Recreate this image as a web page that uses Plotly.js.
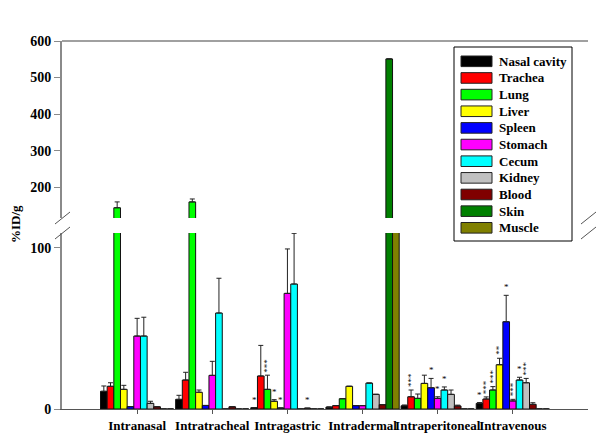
<!DOCTYPE html>
<html>
<head>
<meta charset="utf-8">
<script src="https://cdn.plot.ly/plotly-3.0.1.min.js"></script>
<style>html,body{margin:0;padding:0;background:#fff;}#chart{width:600px;height:446px;}</style>
</head>
<body>
<div id="chart"></div>
<script>
// ---- data ----
const groups = ['Intranasal','Intratracheal','Intragastric','Intradermal','Intraperitoneal','Intravenous'];
const seriesNames = ['Nasal cavity','Trachea','Lung','Liver','Spleen','Stomach','Cecum','Kidney','Blood','Skin','Muscle'];
const seriesColors = ['#000000','#FF0000','#00FF00','#FFFF00','#0000FF','#FF00FF','#00FFFF','#C0C0C0','#800000','#008000','#808000'];

const nasal   = [11.0, 6.0, 0.8, 1.2, 2.0, 3.5];
const trachea = [14.1, 18.0, 20.5, 2.1, 7.6, 6.2];
const lung    = [144, 160, 12.2, 6.4, 6.6, 11.8];
const liver   = [12.2, 10.4, 4.8, 14.1, 15.9, 27.5];
const spleen  = [1.5, 2.2, 0.6, 2.1, 13.2, 54.2];
const stomach = [45.3, 20.9, 71.8, 2.1, 6.6, 5.0];
const cecum   = [45.3, 59.6, 77.6, 16.1, 11.8, 18.0];
const kidney  = [3.5, 0, 0, 9.1, 9.1, 16.3];
const blood   = [1.4, 1.4, 0.5, 2.7, 1.9, 2.9];
const skin    = [0, 0, 0, 551, 0, 0];
const muscle  = [0, 0, 0, 112, 0, 0];

const nasalErr   = [3.3, 2.5, 0, 0, 0.5, 0.5];
const tracheaErr = [2.2, 4.8, 19.0, 0, 4.2, 1.3];
const lungErr    = [16, 8, 8.8, 0, 2.7, 2.1];
const liverErr   = [2.5, 1.4, 1.0, 0, 5.1, 4.0];
const spleenErr  = [0, 0, 0, 0, 5.8, 16.4];
const stomachErr = [11.0, 8.7, 27.6, 0, 1.0, 1.0];
const cecumErr   = [11.7, 21.6, 31.5, 0, 1.9, 1.7];
const kidneyErr  = [1.3, 0, 0, 0, 2.7, 2.7];
const bloodErr   = [0, 0, 0, 0, 0.5, 1.0];
const skinErr    = [0, 0, 0, 0, 0, 0];
const muscleErr  = [0, 0, 0, 0, 0, 0];

const nasalStars   = ['', '', '*', '', '', '*'];
const tracheaStars = ['', '', '', '', '***', '***'];
const lungStars    = ['', '', '***', '', '', '***'];
const liverStars   = ['', '', '*', '', '', '**'];
const spleenStars  = ['', '', '*', '', '*', '*'];
const stomachStars = ['', '', '', '', '*', '***'];
const cecumStars   = ['', '', '', '', '*', '*'];
const kidneyStars  = ['', '', '', '', '', '***'];
const bloodStars   = ['', '', '*', '', '', ''];
const skinStars    = ['', '', '', '', '', ''];
const muscleStars  = ['', '', '', '', '', ''];

const lowerTicks = [0, 100];
const upperTicks = [200, 300, 400, 500, 600];

const values = [nasal, trachea, lung, liver, spleen, stomach, cecum, kidney, blood, skin, muscle];
const errors = [nasalErr, tracheaErr, lungErr, liverErr, spleenErr, stomachErr, cecumErr, kidneyErr, bloodErr, skinErr, muscleErr];
const stars  = [nasalStars, tracheaStars, lungStars, liverStars, spleenStars, stomachStars, cecumStars, kidneyStars, bloodStars, skinStars, muscleStars];

// ---- geometry helpers (pixel -> paper) ----
const W = 600, H = 446;
const M = {l: 62, r: 12, t: 41, b: 37};
const PW = W - M.l - M.r, PH = H - M.t - M.b;
const px = x => (x - M.l) / PW;
const py = y => (H - M.b - y) / PH;

const serif = 'Liberation Serif, Times New Roman, serif';
const bargap = 0.025;

const traces = [];
seriesNames.forEach((name, i) => {
  ['y', 'y2'].forEach(ya => {
    traces.push({
      type: 'bar', name: name, x: groups, y: values[i], yaxis: ya, xaxis: 'x',
      marker: {color: seriesColors[i], line: {color: '#111', width: 1}},
      error_y: {type: 'data', symmetric: false, array: errors[i], arrayminus: errors[i].map(() => 0),
                color: '#222', thickness: 1, width: 2.5},
      showlegend: false, hoverinfo: 'skip'
    });
  });
});

const annotations = [];
const shapes = [];
// significance marks
const barPx = PW / 7 * (1 - bargap) / seriesNames.length;
stars.forEach((arr, i) => {
  arr.forEach((s, g) => {
    if (!s) return;
    annotations.push({
      x: groups[g], y: values[i][g] + errors[i][g], xref: 'x', yref: 'y',
      xshift: (i - (seriesNames.length - 1) / 2) * barPx, yshift: 1,
      text: s, showarrow: false, yanchor: 'bottom', xanchor: 'center',
      textangle: s.length > 1 ? -90 : 0,
      font: {family: serif, size: 9, color: '#000'}
    });
  });
});

// y title
annotations.push({
  x: px(15), y: py(224), xref: 'paper', yref: 'paper', text: '%ID/g', showarrow: false,
  textangle: -90, font: {family: serif, size: 13, color: '#000', weight: 'bold'},
  xanchor: 'center', yanchor: 'middle'
});

// custom legend
shapes.push({type: 'rect', xref: 'paper', yref: 'paper', x0: px(454), x1: px(572), y0: py(47), y1: py(241),
             line: {color: '#000', width: 1}, fillcolor: '#fff', layer: 'above'});
seriesNames.forEach((name, i) => {
  const cy = 61.3 + i * 16.65;
  shapes.push({type: 'rect', xref: 'paper', yref: 'paper', x0: px(461), x1: px(492), y0: py(cy - 5.3), y1: py(cy + 5.3),
               fillcolor: seriesColors[i], line: {color: '#222', width: 1}, layer: 'above'});
  annotations.push({x: px(497), y: py(cy), xref: 'paper', yref: 'paper', text: name, showarrow: false,
                    xanchor: 'left', yanchor: 'middle', font: {family: serif, size: 13, color: '#000', weight: 'bold'}});
});

// top frame line
shapes.push({type: 'line', xref: 'paper', yref: 'paper', x0: 0, x1: 1, y0: 1, y1: 1, line: {color: '#808080', width: 1.5}});
// axis break marks
[62, 588].forEach(bx => {
  [[224, 212], [239, 227]].forEach(([ya, yb]) => {
    shapes.push({type: 'line', xref: 'paper', yref: 'paper', x0: px(bx - 7), y0: py(ya), x1: px(bx + 8), y1: py(yb),
                 line: {color: '#555', width: 1}});
  });
});

const axisCommon = {
  showline: true, linecolor: '#8a8a8a', linewidth: 2, ticks: 'outside', ticklen: 6, tickcolor: '#8a8a8a',
  showgrid: false, zeroline: false, tickfont: {family: serif, size: 14, color: '#000', weight: 'bold'},
  anchor: 'x', fixedrange: true
};

const layout = {
  width: W, height: H, margin: M, paper_bgcolor: '#fff', plot_bgcolor: '#fff',
  barmode: 'group', bargap: bargap, bargroupgap: 0, showlegend: false,
  xaxis: {type: 'category', range: [-1, 6], anchor: 'y', showline: true, linecolor: '#555', linewidth: 1,
          ticks: 'outside', ticklen: 4, tickcolor: '#555', showgrid: false, zeroline: false, tickangle: 0,
          automargin: false,
          tickfont: {family: serif, size: 13, color: '#000', weight: 'bold'}},
  yaxis: Object.assign({}, axisCommon, {domain: [0, py(233)], range: [0, 109.3], tickvals: lowerTicks}),
  yaxis2: Object.assign({}, axisCommon, {domain: [py(218), 1], range: [116, 600], tickvals: upperTicks}),
  annotations: annotations, shapes: shapes
};

Plotly.newPlot('chart', traces, layout, {staticPlot: true, displayModeBar: false});
</script>
</body>
</html>
